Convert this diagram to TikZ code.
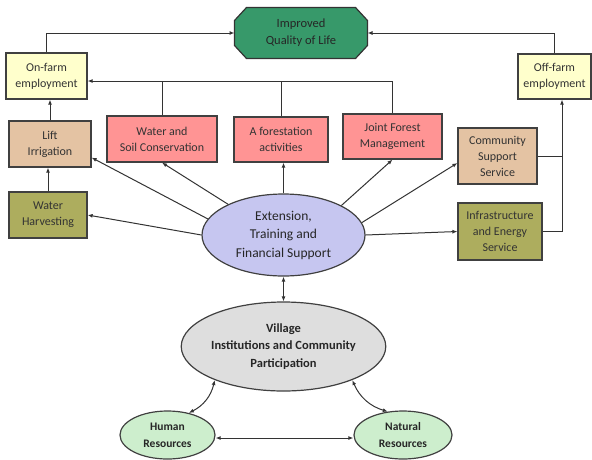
\documentclass[tikz,border=0pt]{standalone}
\usepackage{fontspec}
\setmainfont{Carlito}
\usetikzlibrary{arrows.meta,shapes.geometric,backgrounds}

\definecolor{lifegreen}{HTML}{37996A}
\definecolor{farmyellow}{HTML}{FFFFCC}
\definecolor{servtan}{HTML}{E4C3A3}
\definecolor{consred}{HTML}{FF9494}
\definecolor{harvolive}{HTML}{ADAD5E}
\definecolor{extblue}{HTML}{C6C6F0}
\definecolor{vilgray}{HTML}{DEDEDE}
\definecolor{resgreen}{HTML}{CDEECD}

\begin{document}
\begin{tikzpicture}[x=1pt,y=-1pt, line width=1pt,
  box/.style={rectangle, draw=black!75, line width=1.2pt, align=center, inner sep=0pt, text=black!80, font=\fontsize{12}{16}\selectfont},
  oval/.style={ellipse, draw=black!75, line width=1.2pt, align=center, inner sep=0pt, text=black!85},
  ar/.style={draw=black!80, -{Latex[length=5pt,width=4pt]}},
  dar/.style={draw=black!80, {Latex[length=5pt,width=4pt]}-{Latex[length=5pt,width=4pt]}},
  ln/.style={draw=black!80}]
  \useasboundingbox (0,0) rectangle (592,459);

  % goal
  \node[minimum width=132pt, minimum height=50pt, inner sep=0pt, align=center, text=black!85, font=\fontsize{12.5}{17}\selectfont] (qol) at (301,33) {Improved\\Quality of Life};
  \begin{scope}[on background layer]
    \draw[draw=black!80, line width=1.2pt, fill=lifegreen]
      ([xshift=12pt]qol.north west) -- ([xshift=-12pt]qol.north east)
      -- ([yshift=-13pt]qol.north east) -- ([yshift=13pt]qol.south east)
      -- ([xshift=-12pt]qol.south east) -- ([xshift=12pt]qol.south west)
      -- ([yshift=13pt]qol.south west) -- ([yshift=-13pt]qol.north west) -- cycle;
  \end{scope}

  % employment
  \node[box, fill=farmyellow, minimum width=81pt, minimum height=46pt] (onfarm) at (46.5,76) {On-farm\\employment};
  \node[box, fill=farmyellow, minimum width=73pt, minimum height=45pt] (offfarm) at (554.5,76.5) {Off-farm\\employment};

  % activities
  \node[box, fill=servtan, minimum width=82pt, minimum height=46pt] (lift) at (50,144) {Lift\\Irrigation};
  \node[box, fill=consred, minimum width=110pt, minimum height=46pt] (wsc) at (162,139) {Water and\\Soil Conservation};
  \node[box, fill=consred, minimum width=94pt, minimum height=45pt] (afor) at (281,139.5) {A forestation\\activities};
  \node[box, fill=consred, minimum width=99pt, minimum height=45pt] (jfm) at (392.5,136.5) {Joint Forest\\Management};
  \node[box, fill=servtan, minimum width=79pt, minimum height=56pt] (css) at (497.5,156) {Community\\Support\\Service};
  \node[box, fill=harvolive, minimum width=78pt, minimum height=46pt] (wh) at (48,215) {Water\\Harvesting};
  \node[box, fill=harvolive, minimum width=84pt, minimum height=57pt] (ies) at (500,231.5) {Infrastructure\\and Energy\\Service};

  % support and base
  \node[oval, fill=extblue, minimum width=163pt, minimum height=82pt, font=\fontsize{13.5}{18.5}\selectfont] (ext) at (283.5,235) {Extension,\\Training and\\Financial Support};
  \node[oval, fill=vilgray, minimum width=193pt, minimum height=89pt, font=\bfseries\fontsize{12.5}{17.5}\selectfont] (vil) at (283.5,346.5) {Village\\Institutions and Community\\Participation};
  \node[oval, fill=resgreen, minimum width=95pt, minimum height=48pt, font=\bfseries\fontsize{11.5}{17}\selectfont] (hum) at (167.5,435) {Human\\Resources};
  \node[oval, fill=resgreen, minimum width=98pt, minimum height=48pt, font=\bfseries\fontsize{11.5}{17}\selectfont] (nat) at (403,435) {Natural\\Resources};

  \coordinate (bus) at (391,81);
  \coordinate (offin) at ([xshift=7.5pt]offfarm.south);

  % to the goal
  \draw[ar] (onfarm.north) |- (qol.west);
  \draw[ar] (offfarm.north) |- (qol.east);

  % to on-farm employment
  \draw[ar] (jfm.north) |- ([yshift=-5pt]onfarm.east);
  \draw[ln] (wsc.north) -- (wsc.north |- bus);
  \draw[ln] (afor.north) -- (afor.north |- bus);
  \draw[ar] (lift.north) -- (lift.north |- onfarm.south);
  \draw[ar] (wh.north) -- (wh.north |- lift.south);

  % to off-farm employment
  \draw[ln] (css.east) -- (css.east -| offin);
  \draw[ar] (ies.east) -| (offin);

  % from extension
  \draw[ar] (ext.168) -- ([yshift=10pt]lift.south east);
  \draw[ar] (ext.west) -- (wh.east);
  \draw[ar] (ext.151) -- (wsc.south);
  \draw[ar] (ext.north) -- (ext.north |- afor.south);
  \draw[ar] (ext.27) -- (jfm.south);
  \draw[ar] (ext.9) -- ([yshift=-7pt]css.west);
  \draw[ar] (ext.east) -- (ies.west);

  % base
  \draw[dar] (ext) -- (vil);
  \draw[dar] (vil.206) to[bend left=25] (hum.46);
  \draw[dar] (vil.334) to[bend right=25] (nat.123);
  \draw[dar] ([yshift=-3pt]hum.east) -- ([yshift=-3pt]nat.west);
\end{tikzpicture}
\end{document}
